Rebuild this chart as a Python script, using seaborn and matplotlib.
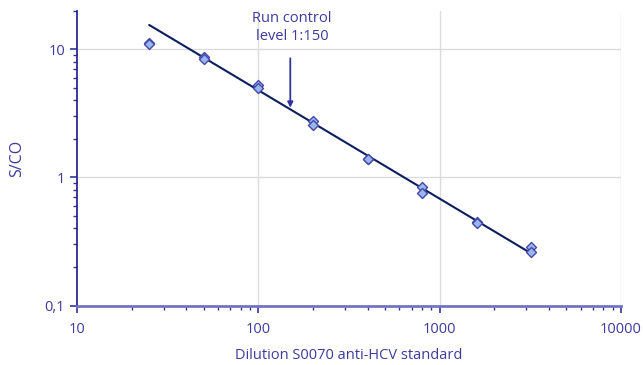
import numpy as np
import pandas as pd
import matplotlib
matplotlib.use("Agg")
import matplotlib.pyplot as plt
import seaborn as sns
from matplotlib.ticker import LogLocator, FixedLocator, FixedFormatter, NullFormatter

dilution = [25, 25, 50, 50, 100, 100, 200, 200, 400, 400, 800, 800, 1600, 1600, 3200, 3200]
s_co = [11.2, 10.9, 8.7, 8.35, 5.3, 5.0, 2.75, 2.55, 1.40, 1.38, 0.84, 0.76, 0.45, 0.44, 0.285, 0.26]
fit_range = [25, 3200]
x_ticks = [10, 100, 1000, 10000]
x_labels = ["10", "100", "1000", "10000"]
y_ticks = [0.1, 1, 10]
y_labels = ["0,1", "1", "10"]
annotation = "Run control\nlevel 1:150"
control_dilution = 150

df = pd.DataFrame({"dilution": dilution, "s_co": s_co})

sns.set_theme(style="white")
plt.rcParams['font.family'] = ['Open Sans', 'DejaVu Sans']

text_col = "#3b3b9e"
fig = plt.figure(figsize=(6.43, 3.65), dpi=100)
ax = fig.add_axes([0.1198, 0.163, 0.846, 0.8077])

ax.set_xscale("log")
ax.set_yscale("log")
ax.set_xlim(10, 10000)
ax.set_ylim(0.1, 20)

# regression on log-log (excluding first dilution)
fit_df = df[df["dilution"] > 25]
coef = np.polyfit(np.log10(fit_df["dilution"]), np.log10(fit_df["s_co"]), 1)
lx = np.array(fit_range, dtype=float)
ly = 10 ** np.polyval(coef, np.log10(lx))

ax.grid(False)
for t in [100, 1000, 10000]:
    ax.axvline(t, color="#dcdcdc", lw=1, zorder=0)
for t in [1, 10]:
    ax.axhline(t, color="#dcdcdc", lw=1, zorder=0)

sns.lineplot(x=lx, y=ly, ax=ax, color="#0b1f5e", lw=1.5, zorder=2)
sns.scatterplot(data=df, x="dilution", y="s_co", ax=ax, marker="D", s=26,
                color="#96b8ee", edgecolor="#4848aa", linewidth=1, zorder=3)

ax.xaxis.set_major_locator(FixedLocator(x_ticks))
ax.xaxis.set_major_formatter(FixedFormatter(x_labels))
ax.yaxis.set_major_locator(FixedLocator(y_ticks))
ax.yaxis.set_major_formatter(FixedFormatter(y_labels))
ax.xaxis.set_minor_locator(LogLocator(base=10, subs=np.arange(2, 10)))
ax.yaxis.set_minor_locator(LogLocator(base=10, subs=np.arange(2, 10)))
ax.xaxis.set_minor_formatter(NullFormatter())
ax.yaxis.set_minor_formatter(NullFormatter())

ax.tick_params(axis="both", which="both", direction="out", colors="#3333a0",
               labelcolor=text_col, labelsize=10.5)
ax.tick_params(axis="x", which="major", length=5, width=1.2, bottom=True, pad=7)
ax.tick_params(axis="x", which="minor", length=3, width=1, bottom=True)
ax.tick_params(axis="y", which="major", length=5, width=1.2, left=True)
ax.tick_params(axis="y", which="minor", length=3, width=1, left=True)

for s in ["top", "right"]:
    ax.spines[s].set_visible(False)
ax.spines["left"].set_color("#2a2a96")
ax.spines["left"].set_linewidth(1.3)
ax.spines["bottom"].set_color("#7474c4")
ax.spines["bottom"].set_linewidth(2)

ax.set_xlabel("Dilution S0070 anti-HCV standard", color=text_col, fontsize=10.5, labelpad=8)
ax.set_ylabel("S/CO", color=text_col, fontsize=11.5, labelpad=14)

ax.annotate("", xy=(control_dilution, 3.5), xytext=(control_dilution, 8.5),
            arrowprops=dict(arrowstyle="-|>", color="#3333a0", lw=1.3,
                            mutation_scale=8, shrinkA=0, shrinkB=0))
ax.text(control_dilution * 1.02, 11.0, annotation, ha="center", va="bottom",
        color=text_col, fontsize=10.5, linespacing=1.25)

fig.savefig("out.png", dpi=100)
